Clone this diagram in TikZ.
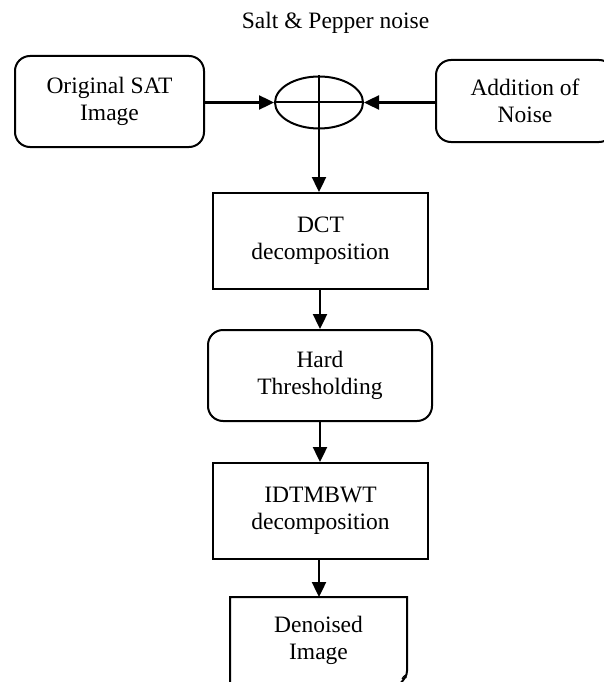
\documentclass[tikz,border=0pt]{standalone}
\usepackage{fontspec}
\setmainfont{Liberation Serif}
\usetikzlibrary{shapes.geometric,arrows.meta}
\begin{document}
\begin{tikzpicture}[x=1pt,y=-1pt,
  txt/.style={font=\fontsize{23.5}{27}\selectfont, align=center, inner sep=0pt},
  rbox/.style={txt, draw, line width=2pt, rounded corners=15pt},
  sbox/.style={txt, draw, line width=2pt},
  arr/.style={line width=2.4pt, -{Triangle[length=15pt,width=14pt]}},
  ln/.style={line width=2pt}]
\useasboundingbox (0,0) rectangle (603,682);
\node[txt, anchor=base] (title) at (335.5,29) {Salt \& Pepper noise};
\node[rbox, minimum width=189pt, minimum height=91pt] (orig) at (109.5,101.5) {Original SAT\\Image};
\node[draw, ellipse, ln, minimum width=88pt, minimum height=52pt, inner sep=0pt] (sum) at (319,102.5) {};
\draw[ln] (sum.north) -- (sum.south);
\draw[ln] (sum.west) -- (sum.east);
\node[rbox, minimum width=178pt, minimum height=82pt] (noise) at (525,101) {Addition of\\Noise};
\node[sbox, minimum width=215pt, minimum height=96pt] (dct) at (320.5,241) {DCT\\decomposition};
\node[rbox, minimum width=224pt, minimum height=91pt] (hard) at (320,375.5) {Hard\\Thresholding};
\node[sbox, minimum width=215pt, minimum height=96pt] (idt) at (320.5,511) {IDTMBWT\\decomposition};
\node[txt] (den) at (318.5,640) {Denoised\\Image};
\coordinate (dentop) at (319,597);
\draw[ln] (230,700) -- (230,597) -- (407,597) -- (407,671)
  .. controls (407,676) and (404,679) .. (400,684);
\draw[line width=1.2pt] (402,679) .. controls (404,675) and (407,674) .. (406,678);
\draw[arr] (orig.east |- sum.west) -- (sum.west);
\draw[arr] (noise.west |- sum.east) -- (sum.east);
\draw[arr] (sum.south) -- (sum.south |- dct.north);
\draw[arr] (dct.south -| hard.north) -- (hard.north);
\draw[arr] (hard.south) -- (hard.south |- idt.north);
\draw[arr] (idt.south -| dentop) -- (dentop);
\end{tikzpicture}
\end{document}
